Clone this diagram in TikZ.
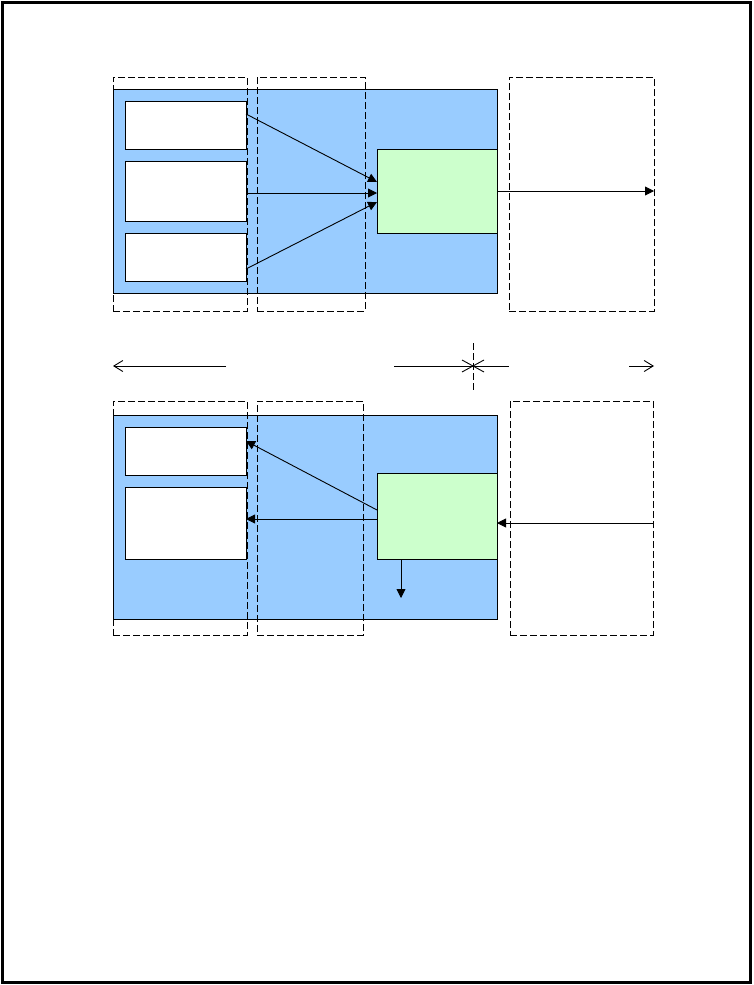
\documentclass[tikz,border=0pt]{standalone}
\usepackage{tikz}
\usetikzlibrary{arrows.meta}
\definecolor{panelBlue}{RGB}{153,204,255}
\definecolor{unitGreen}{RGB}{204,255,204}

\begin{document}
\begin{tikzpicture}[
    x=1pt, y=-1pt,
    line width=0.9pt,
    box/.style={
        draw=black,
        inner sep=0pt,
        outer sep=0pt
    },
    panel/.style={box, fill=panelBlue, minimum width=384pt, minimum height=204pt},
    slot/.style={box, fill=white, minimum width=121pt},
    unit/.style={box, fill=unitGreen, minimum width=120pt},
    zone/.style={
        box,
        dash pattern=on 7pt off 3pt,
        minimum height=234pt
    },
    arrow/.style={
        -{Triangle[length=9pt,width=9pt]},
        color=black
    },
    barb/.style={
        -{Straight Barb[length=9pt,width=11pt]},
        color=black
    }
]

    % page frame
    \useasboundingbox (0,0) rectangle (753,985);
    \draw[line width=3pt] (2.5,2.5) rectangle (750.5,982.5);

    % ---------------------------------------------------------
    % TOP: FORWARD PATH
    % ---------------------------------------------------------
    \node[panel] (panelT) at (305,191) {};
    \node[slot, minimum height=48pt] (slotA) at (185.5,125) {};
    \node[slot, minimum height=60pt] (slotB) at (185.5,191) {};
    \node[slot, minimum height=48pt] (slotC) at (185.5,257) {};
    \node[unit, minimum height=84pt] (unitT) at (437,191) {};

    % dashed zones
    \node[zone, minimum width=134pt] (zoneAT) at (180,194) {};
    \node[zone, minimum width=108pt] (zoneBT) at (311,194) {};
    \node[zone, minimum width=145pt] (zoneCT) at (581.5,194) {};

    % arrows
    \draw[arrow] ([yshift=11pt]slotA.east) -- ([yshift=9pt]unitT.west);
    \draw[arrow] ([yshift=-2pt]slotB.east) -- ([yshift=-2pt]unitT.west);
    \draw[arrow] ([yshift=-12pt]slotC.east) -- ([yshift=-11pt]unitT.west);
    \draw[arrow] (unitT.east) -- (unitT.east -| zoneCT.east);

    % ---------------------------------------------------------
    % MIDDLE: DIRECTION LINE
    % ---------------------------------------------------------
    \coordinate (leftEnd) at (113,366);
    \coordinate (leftStart) at (226,366);
    \coordinate (midStart) at (394,366);
    \coordinate (midEnd) at (509,366);
    \coordinate (cross) at (473,366);
    \coordinate (rightStart) at (629,366);
    \coordinate (rightEnd) at (654,366);

    \draw[barb] (leftStart) -- (leftEnd);
    \draw (midStart) -- (midEnd);
    \draw[barb] (rightStart) -- (rightEnd);
    \draw ([shift={(-11,-6)}]cross) -- ([shift={(11,6)}]cross);
    \draw ([shift={(-11,6)}]cross) -- ([shift={(11,-6)}]cross);
    \draw[dash pattern=on 7pt off 3pt] ([yshift=23pt]cross) -- ([yshift=-24pt]cross);

    % ---------------------------------------------------------
    % BOTTOM: RETURN PATH
    % ---------------------------------------------------------
    \node[panel] (panelB) at (305,517) {};
    \node[slot, minimum height=48pt] (slotD) at (185.5,451) {};
    \node[slot, minimum height=72pt] (slotE) at (185.5,523) {};
    \node[unit, minimum height=86pt] (unitB) at (437,516) {};

    % dashed zones
    \node[zone, minimum width=134pt] (zoneAB) at (180,518) {};
    \node[zone, minimum width=106pt] (zoneBB) at (310,518) {};
    \node[zone, minimum width=143pt] (zoneCB) at (581.5,518) {};

    % arrows
    \coordinate (inB) at ([yshift=-7pt]unitB.east);
    \coordinate (outB) at (401,598);
    \draw[arrow] ([yshift=6pt]unitB.west) -- ([yshift=10pt]slotD.east);
    \draw[arrow] ([yshift=-3pt]unitB.west) -- ([yshift=-3pt]unitB.west -| slotE.east);
    \draw[arrow] (inB -| zoneCB.east) -- (inB);
    \draw[arrow] (outB |- unitB.south) -- (outB);

\end{tikzpicture}
\end{document}
